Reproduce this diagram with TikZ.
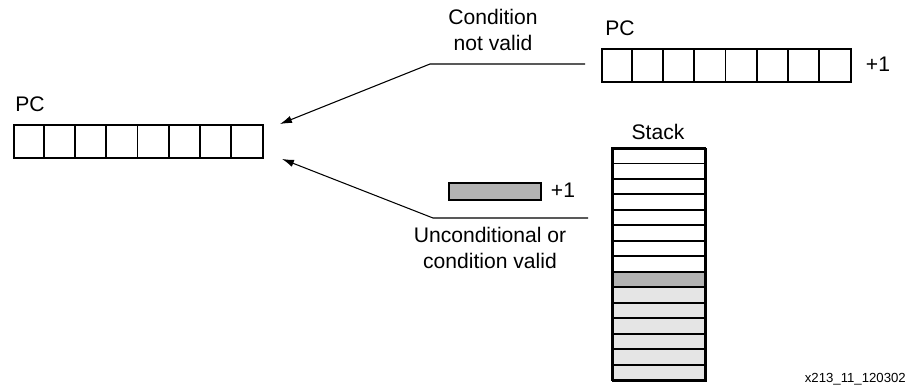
\documentclass[tikz,border=0pt]{standalone}
\usepackage{fontspec}
\setmainfont{Liberation Sans}
\usetikzlibrary{arrows.meta,positioning}

\begin{document}
\begin{tikzpicture}[x=0.2mm,y=-0.2mm,
    reg/.style={draw, line width=1.1pt, inner sep=0pt, anchor=north west},
    cell/.style={draw, line width=1.1pt},
    lbl/.style={font=\fontsize{12}{14.5}\selectfont, align=center},
    link/.style={line width=0.6pt, -{Latex[length=2.4mm,width=1.5mm]}}]
    \useasboundingbox (0,0) rectangle (918,390);

    % PC on the left
    \node[reg, minimum width=49.8mm, minimum height=6.6mm] (pcl) at (13,124) {};
    \foreach \i in {1,...,7}
        \draw[cell] (13+\i*31.125,124) -- (13+\i*31.125,157);
    \node[lbl] (pcltext) at (30,104) {PC};

    % PC on the right
    \node[reg, minimum width=49.8mm, minimum height=6.6mm] (pcr) at (601,48) {};
    \foreach \i in {1,...,7}
        \draw[cell] (601+\i*31.125,48) -- (601+\i*31.125,81);
    \node[lbl] (pcrtext) at (620,28) {PC};
    \node[lbl] (pcrinc) at (878,64) {+1};

    % stack
    \foreach \i in {0,...,7}
        \draw[cell] (612,148+\i*15.47) rectangle +(93,15.47);
    \draw[cell, fill=black!30] (612,148+8*15.47) rectangle +(93,15.47);
    \foreach \i in {9,...,14}
        \draw[cell, fill=black!10] (612,148+\i*15.47) rectangle +(93,15.47);
    \node[reg, minimum width=18.6mm, minimum height=46.4mm] (stk) at (612,148) {};
    \node[lbl] (stktext) at (658,132) {Stack};

    % top of stack
    \node[reg, fill=black!30, minimum width=18.4mm, minimum height=3.4mm] (tos) at (448,182) {};
    \node[lbl] (tosinc) at (563,190) {+1};

    % connectors
    \coordinate (nvstart) at (585,64);
    \coordinate (nvbend) at (430,64);
    \draw[link] (nvstart) -- (nvbend) -- ([xshift=3.2mm]pcl.north east);
    \node[lbl] (nvtext) at (493,30) {Condition\\not valid};

    \coordinate (vstart) at (588,218);
    \coordinate (vbend) at (433,218);
    \draw[link] (vstart) -- (vbend) -- ([xshift=3.6mm]pcl.south east);
    \node[lbl] (vtext) at (490,248) {Unconditional or\\condition valid};

    \node[font=\fontsize{7.5}{9}\selectfont, anchor=east] (figid) at (912,379) {x213\_11\_120302};
\end{tikzpicture}
\end{document}
